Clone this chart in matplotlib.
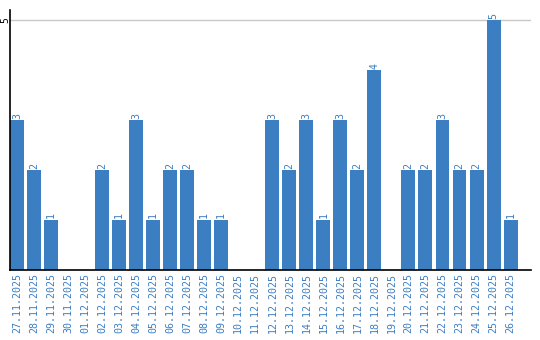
import numpy as np
import matplotlib
matplotlib.use('Agg')
import matplotlib.pyplot as plt

dates = ['27.11.2025', '28.11.2025', '29.11.2025', '30.11.2025', '01.12.2025',
         '02.12.2025', '03.12.2025', '04.12.2025', '05.12.2025', '06.12.2025',
         '07.12.2025', '08.12.2025', '09.12.2025', '10.12.2025', '11.12.2025',
         '12.12.2025', '13.12.2025', '14.12.2025', '15.12.2025', '16.12.2025',
         '17.12.2025', '18.12.2025', '19.12.2025', '20.12.2025', '21.12.2025',
         '22.12.2025', '23.12.2025', '24.12.2025', '25.12.2025', '26.12.2025']
counts = [3, 2, 1, 0, 0, 2, 1, 3, 1, 2, 2, 1, 1, 0, 0,
          3, 2, 3, 1, 3, 2, 4, 0, 2, 2, 3, 2, 2, 5, 1]

blue = '#3b7ec2'
mono = 'DejaVu Sans Mono'

fig = plt.figure(figsize=(5.4, 3.4), dpi=100)
ax = fig.add_axes([10 / 540, 70 / 340, 521 / 540, 260 / 340])

x = np.arange(len(dates))
ax.bar(x, counts, width=0.82, color=blue, zorder=2)

# value labels above bars (skip zeros)
for xi, v in zip(x, counts):
    if v > 0:
        ax.text(xi, v + 0.03, str(v), rotation=90, ha='center', va='bottom',
                color=blue, fontsize=7.2, family=mono)

ax.set_xlim(-0.41, 30.2)
ax.set_ylim(0, 5.2)

ax.set_xticks(x)
ax.set_xticklabels(dates, rotation=90, color=blue, fontsize=7.2, family=mono)
ax.tick_params(axis='x', length=0, pad=2)

# y tick "5" drawn rotated just left of the axis
ax.set_yticks([5])
ax.set_yticklabels([''])
ax.tick_params(axis='y', length=0)
ax.text(-4.5 / 521, 5, '5', rotation=90, ha='center', va='center', fontsize=7,
        family=mono, transform=ax.get_yaxis_transform(), clip_on=False)
ax.grid(axis='y', color='#c8c8c8', linewidth=1, zorder=0)

for side in ['top', 'right']:
    ax.spines[side].set_visible(False)
ax.spines['left'].set_linewidth(1.2)
ax.spines['bottom'].set_linewidth(1.2)

fig.savefig('out.png', dpi=100)
